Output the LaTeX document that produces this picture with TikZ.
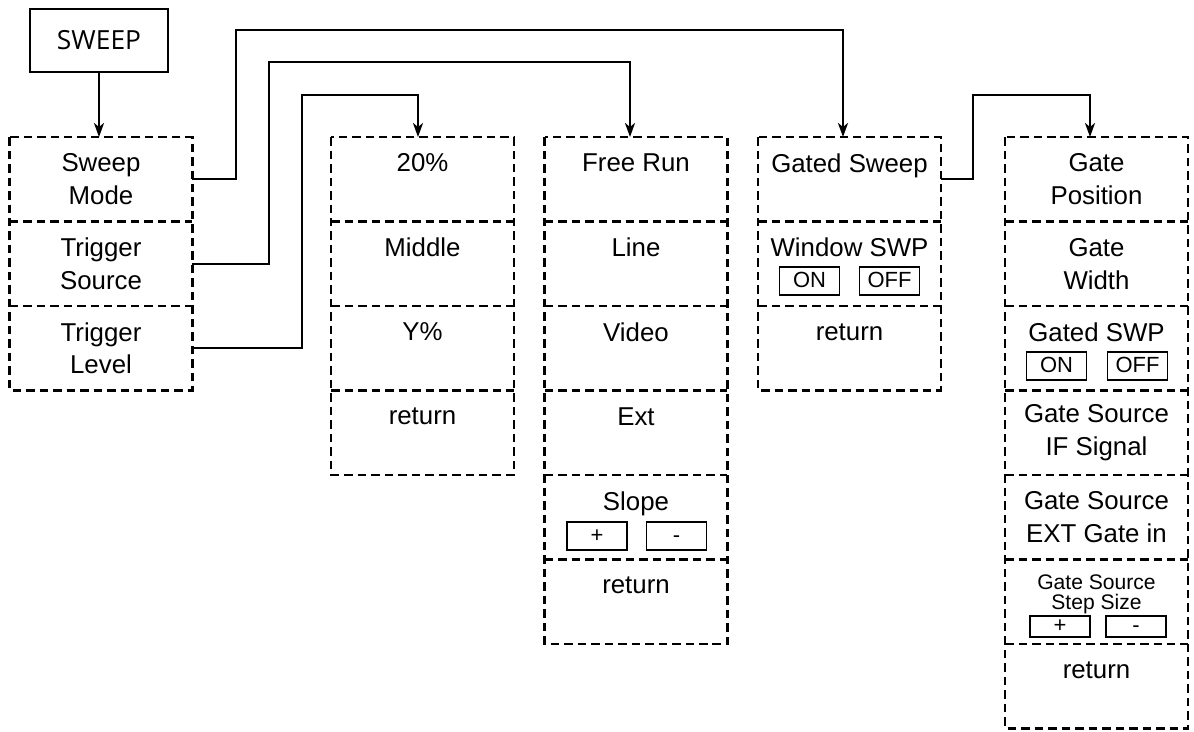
\documentclass[tikz,border=0pt]{standalone}
\usepackage{fontspec}
\setmainfont{Liberation Sans}
\newfontfamily\keyfont{Open Sans}
\usetikzlibrary{arrows.meta,positioning}

\tikzset{
  cell/.style={minimum width=3.66cm, minimum height=1.69cm, inner sep=0, outer sep=0,
    align=center, font=\fontsize{14.7}{18.7}\selectfont},
  frame/.style={line width=1.3pt, dash pattern=on 0.17cm off 0.1cm},
  conn/.style={line width=1.4pt, -{Stealth[length=0.28cm,width=0.2cm,inset=0.08cm]}},
  keybox/.style={draw, line width=1.2pt, minimum width=2.76cm, minimum height=1.26cm,
    inner sep=0, font=\keyfont\fontsize{15}{18}\selectfont},
  btn/.style={draw, line width=1.1pt, minimum width=1.2cm, minimum height=0.56cm,
    inner sep=0, text height=0.72em, text depth=0pt, font=\fontsize{12.5}{12.5}\selectfont},
}

\begin{document}
\begin{tikzpicture}[x=0.02cm,y=-0.02cm]
\useasboundingbox (0,0) rectangle (1194,731);

\node[keybox] (sweep) at (99,40.5) {SWEEP};

% first menu
\node[cell] (c1a) at (101,179.25) {Sweep\\Mode};
\node[cell,below=0pt of c1a] (c1b) {Trigger\\Source};
\node[cell,below=0pt of c1b] (c1c) {Trigger\\Level};

% trigger level
\node[cell] (c2a) at (422.5,179.25) {20\%\\\mbox{}};
\node[cell,below=0pt of c2a] (c2b) {Middle\\\mbox{}};
\node[cell,below=0pt of c2b] (c2c) {Y\%\\\mbox{}};
\node[cell,below=0pt of c2c] (c2d) {return\\\mbox{}};

% trigger source
\node[cell] (c3a) at (636,179.25) {Free Run\\\mbox{}};
\node[cell,below=0pt of c3a] (c3b) {Line\\\mbox{}};
\node[cell,below=0pt of c3b] (c3c) {Video\\\mbox{}};
\node[cell,below=0pt of c3c] (c3d) {Ext\\\mbox{}};
\node[cell,below=0pt of c3d] (c3e) {Slope\\\mbox{}};
\node[cell,below=0pt of c3e] (c3f) {return\\\mbox{}};
\node[btn] (slopep) at ([xshift=-0.78cm,yshift=-0.37cm]c3e.center) {+};
\node[btn] (slopem) at ([xshift=0.81cm,yshift=-0.37cm]c3e.center) {-};

% sweep mode
\begin{scope}[every node/.append style={font=\fontsize{13.6}{18.7}\selectfont}]
\node[cell] (c4a) at (849.5,179.25) {Gated Sweep\\\mbox{}};
\node[cell,below=0pt of c4a] (c4b) {Window SWP\\\mbox{}};
\node[cell,below=0pt of c4b] (c4c) {return\\\mbox{}};
\end{scope}
\node[btn] (winon) at ([xshift=-0.8cm,yshift=-0.34cm]c4b.center) {ON};
\node[btn] (winoff) at ([xshift=0.8cm,yshift=-0.34cm]c4b.center) {OFF};

% gated sweep
\begin{scope}[every node/.append style={font=\fontsize{15.2}{18.7}\selectfont}]
\node[cell] (c5a) at (1096.5,179.25) {Gate\\Position};
\node[cell,below=0pt of c5a] (c5b) {Gate\\Width};
\node[cell,below=0pt of c5b] (c5c) {Gated SWP\\\mbox{}};
\node[cell,below=0pt of c5c] (c5d) {Gate Source\\IF Signal};
\node[cell,below=0pt of c5d] (c5e) {Gate Source\\EXT Gate in};
\end{scope}
\node[cell,below=0pt of c5e,font=\fontsize{12}{11}\selectfont] (c5f) {Gate Source\\Step Size\\\mbox{}};
\node[cell,below=0pt of c5f] (c5g) {return\\\mbox{}};
\node[btn] (gateon) at ([xshift=-0.8cm,yshift=-0.35cm]c5c.center) {ON};
\node[btn] (gateoff) at ([xshift=0.82cm,yshift=-0.35cm]c5c.center) {OFF};
\node[btn,minimum height=0.42cm] (stepp) at ([xshift=-0.73cm,yshift=-0.5cm]c5f.center) {+};
\node[btn,minimum height=0.42cm] (stepm) at ([xshift=0.79cm,yshift=-0.5cm]c5f.center) {-};

% frames
\draw[frame] (c1a.north west) rectangle (c1c.south east);
\draw[frame] (c2a.north west) rectangle (c2d.south east);
\draw[frame] (c3a.north west) rectangle (c3f.south east);
\draw[frame] (c4a.north west) rectangle (c4c.south east);
\draw[frame] (c5a.north west) rectangle (c5g.south east);
\foreach \c in {c1a,c1b,c2a,c2b,c2c,c3a,c3b,c3c,c3d,c3e,c4a,c4b,c5a,c5b,c5c,c5d,c5e,c5f}
  \draw[frame] (\c.south west) -- (\c.south east);

% links
\draw[conn] (sweep.south) -- (sweep.south |- c1a.north);
\draw[conn] (c1a.east) -| (236,30) -| ([xshift=-0.13cm]c4a.north);
\draw[conn] (c1b.east) -| (269,62) -| ([xshift=-0.12cm]c3a.north);
\draw[conn] (c1c.east) -| (302,95) -| ([xshift=-0.09cm]c2a.north);
\draw[conn] (c4a.east) -| (973,95) -| ([xshift=-0.13cm]c5a.north);
\end{tikzpicture}
\end{document}
